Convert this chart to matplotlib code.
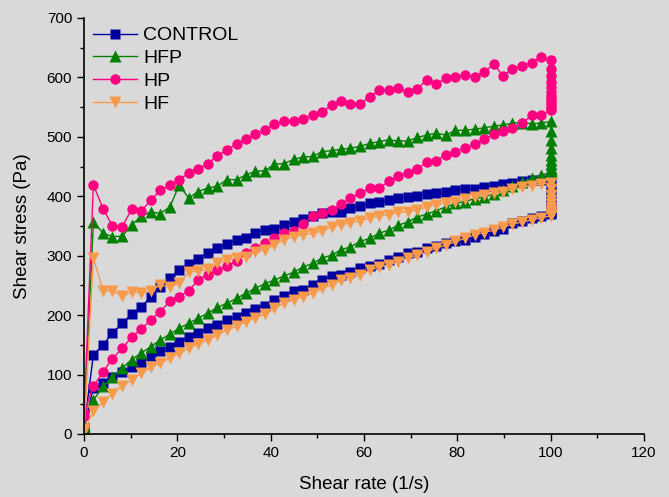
import matplotlib
matplotlib.use("Agg")
import matplotlib.pyplot as plt
from matplotlib.ticker import MultipleLocator

plt.rcParams['font.family'] = ['Liberation Sans', 'DejaVu Sans']

# shear rate grid (1/s), ramp up; ramp down uses the same points reversed
rate = [0, 2.0, 4.1, 6.1, 8.2, 10.2, 12.2, 14.3, 16.3, 18.4, 20.4, 22.4, 24.5,
        26.5, 28.6, 30.6, 32.7, 34.7, 36.7, 38.8, 40.8, 42.9, 44.9, 46.9, 49.0,
        51.0, 53.1, 55.1, 57.1, 59.2, 61.2, 63.3, 65.3, 67.3, 69.4, 71.4, 73.5,
        75.5, 77.6, 79.6, 81.6, 83.7, 85.7, 87.8, 89.8, 91.8, 93.9, 95.9, 98.0, 100]
hold_rate = 100

# shear stress (Pa): up ramp, hold at 100 1/s, down ramp (listed by increasing rate, 0..98)
control_up = [10, 133, 150, 170, 186, 202, 213, 231, 248, 262, 276, 286, 295, 305, 313,
              320, 327, 330, 339, 343, 345, 352, 356, 361, 366, 372, 374, 374, 380, 383,
              388, 391, 393, 397, 398, 401, 403, 406, 407, 411, 412, 412, 415, 418, 421,
              423, 425, 427, 428, 428]
control_hold = [418, 407, 398, 390, 384, 379, 375, 372, 370]
control_down = [10, 78, 86, 96, 104, 112, 120, 131, 139, 147, 155, 163, 170, 178, 184,
                191, 197, 203, 210, 216, 226, 232, 240, 242, 251, 259, 265, 268, 273, 279,
                283, 286, 292, 298, 304, 307, 313, 316, 321, 324, 327, 332, 337, 341, 345,
                355, 359, 363, 366]

hfp_up = [10, 357, 338, 332, 333, 352, 366, 374, 371, 382, 419, 397, 408, 414, 417,
          428, 428, 436, 442, 443, 454, 455, 462, 466, 467, 475, 477, 479, 481, 484,
          489, 492, 495, 493, 493, 499, 503, 506, 503, 511, 511, 513, 515, 518, 520,
          523, 524, 522, 523, 526]
hfp_hold = [510, 494, 481, 470, 461, 454, 448, 444, 441, 439]
hfp_down = [15, 57, 80, 96, 111, 125, 136, 147, 158, 168, 178, 186, 195, 203, 213,
            220, 228, 237, 245, 253, 259, 266, 272, 281, 287, 296, 301, 310, 315, 324,
            329, 338, 343, 351, 357, 365, 370, 376, 382, 388, 391, 396, 399, 404, 411,
            418, 424, 430, 436]

hp_up = [30, 419, 379, 350, 349, 378, 375, 393, 410, 419, 428, 439, 446, 455, 468,
         478, 488, 496, 504, 512, 522, 527, 526, 530, 536, 541, 554, 561, 556, 556,
         567, 578, 578, 582, 576, 581, 596, 589, 599, 601, 604, 600, 609, 622, 603,
         614, 619, 625, 634, 630]
hp_hold = [615, 603, 593, 584, 576, 569, 563, 558, 553, 549, 546]
hp_down = [35, 80, 105, 127, 144, 163, 176, 192, 206, 223, 231, 241, 259, 268, 276,
           282, 291, 304, 313, 321, 329, 339, 342, 354, 366, 372, 377, 387, 397, 405,
           414, 414, 425, 434, 440, 446, 457, 460, 470, 474, 482, 488, 496, 504, 510,
           515, 523, 536, 536]

hf_up = [8, 296, 241, 241, 232, 239, 238, 240, 251, 247, 254, 272, 274, 277, 287,
         293, 296, 298, 307, 310, 318, 327, 332, 335, 338, 341, 349, 352, 355, 359,
         363, 367, 369, 373, 374, 377, 382, 386, 388, 391, 395, 398, 402, 405, 408,
         412, 415, 418, 421, 422]
hf_hold = [412, 402, 394, 387, 381, 376, 372, 369, 367]
hf_down = [5, 38, 54, 68, 81, 91, 102, 112, 119, 128, 136, 144, 152, 158, 167,
           175, 181, 189, 195, 202, 212, 220, 226, 231, 237, 245, 251, 259, 263, 268,
           276, 281, 285, 290, 296, 301, 307, 313, 318, 324, 329, 335, 339, 343, 348,
           353, 357, 360, 364]

series = [
    ("CONTROL", control_up, control_hold, control_down, '#0000a0', 's', 6.5),
    ("HFP", hfp_up, hfp_hold, hfp_down, '#008000', '^', 8),
    ("HP", hp_up, hp_hold, hp_down, '#ff0080', 'o', 7.5),
    ("HF", hf_up, hf_hold, hf_down, '#f89a4c', 'v', 8),
]

bg = '#d9d9d9'
fig = plt.figure(figsize=(6.69, 4.97), dpi=100, facecolor=bg)
ax = fig.add_axes([0.1256, 0.1268, 0.837, 0.837], facecolor=bg)

for name, up, hold, down, col, mk, ms in series:
    xs = rate + [hold_rate] * len(hold) + rate[-2::-1]
    ys = up + hold + down[::-1]
    ax.plot(xs, ys, color=col, lw=1.0, marker=mk, ms=ms, mec='none', mfc=col,
            label=name)

ax.set_xlim(0, 120)
ax.set_ylim(0, 700)
ax.xaxis.set_major_locator(MultipleLocator(20))
ax.xaxis.set_minor_locator(MultipleLocator(10))
ax.yaxis.set_major_locator(MultipleLocator(100))
ax.yaxis.set_minor_locator(MultipleLocator(50))
ax.tick_params(which='major', direction='out', length=5, width=1, labelsize=11,
               colors='black')
ax.tick_params(which='minor', direction='out', length=3, width=1)
for s in ['top', 'right']:
    ax.spines[s].set_visible(False)
for s in ['left', 'bottom']:
    ax.spines[s].set_linewidth(1.2)

ax.set_xlabel('Shear rate (1/s)', fontsize=13.5, labelpad=12)
ax.set_ylabel('Shear stress (Pa)', fontsize=13.5, labelpad=11)

ax.legend(loc='upper left', bbox_to_anchor=(0.0, 1.0), frameon=False,
          fontsize=14, handlelength=2.3, handletextpad=0.3, labelspacing=0.27,
          borderaxespad=0.05)

fig.savefig('out.png', dpi=100, facecolor=bg)
